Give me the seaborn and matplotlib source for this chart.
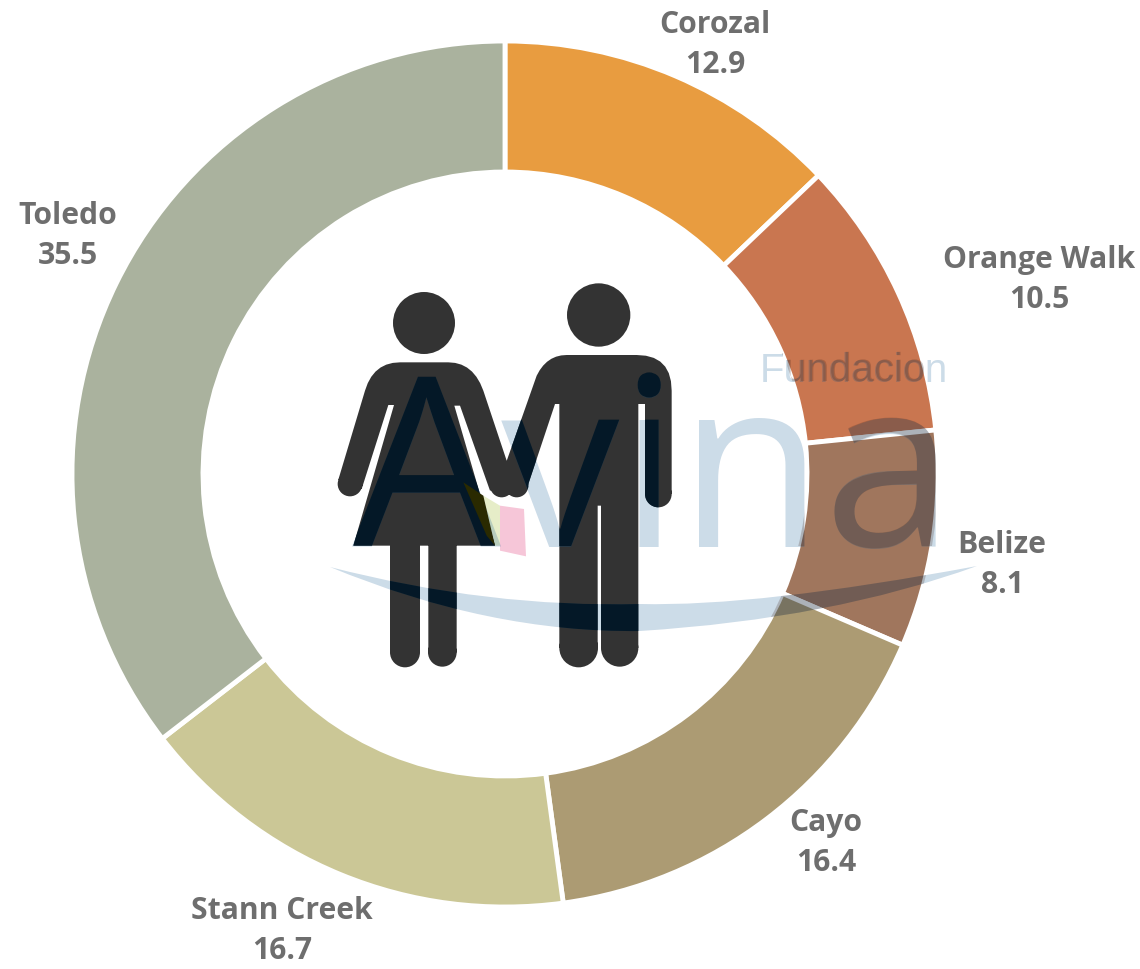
import matplotlib
matplotlib.use('Agg')
import matplotlib.pyplot as plt
import seaborn as sns
import numpy as np
from matplotlib.font_manager import FontProperties
from matplotlib.patches import PathPatch, Wedge
from matplotlib.path import Path
from matplotlib.textpath import TextPath
from matplotlib.transforms import Affine2D

districts = ['Corozal', 'Orange Walk', 'Belize', 'Cayo', 'Stann Creek', 'Toledo']
shares = [12.9, 10.5, 8.1, 16.4, 16.7, 35.5]
ring_colors = ['#E89C40', '#C97650', '#A0765D', '#AC9B73', '#CBC796', '#AAB29E']

# label centres in picture pixels
label_pos = [(715, 45), (1039, 280), (1002, 565), (826, 843), (282, 931), (68, 236)]

W, H = 1140, 970
CX, CY, R = 505, 475, 433
RING_W = 131


def to_data(x, y):
    return (x - CX) / R, (CY - y) / R


def from_zoom(x, y):
    return to_data(x / 3 + 320, y / 3 + 270)


def bend(p0, c, p1, n=8):
    # points along a rounded corner
    t = np.linspace(0, 1, n)[:, None]
    p0, c, p1 = np.array(p0), np.array(c), np.array(p1)
    return [tuple(p) for p in (1 - t) ** 2 * p0 + 2 * t * (1 - t) * c + t ** 2 * p1]


def poly(points, conv=from_zoom):
    xy = np.array([conv(*p) for p in points])
    area = np.sum(xy[:, 0] * np.roll(xy[:, 1], -1) - np.roll(xy[:, 0], -1) * xy[:, 1])
    if area < 0:
        xy = xy[::-1]
    return Path(np.vstack([xy, xy[0]]), closed=True)


def disc(x, y, r):
    return Path.circle(from_zoom(x, y), r / 3 / R)


sns.set_theme(style='white')
plt.rcParams['font.family'] = ['Open Sans', 'DejaVu Sans']

fig = plt.figure(figsize=(W / 100, H / 100), dpi=100, facecolor='white')
ax = fig.add_axes([0, 0, 1, 1])

ax.pie(shares, colors=sns.color_palette(ring_colors), startangle=90, counterclock=False,
       radius=1, wedgeprops=dict(width=RING_W / R, edgecolor='white', linewidth=3.5))
ax.set_xlim(-CX / R, (W - CX) / R)
ax.set_ylim(-(H - CY) / R, CY / R)

# labels
for name, val, pos in zip(districts, shares, label_pos):
    x, y = to_data(*pos)
    ax.text(x, y, '{}\n{}'.format(name, val), ha='center', va='center', fontsize=21.7,
            fontweight='bold', color='#6E6E6E', linespacing=1.42, zorder=6)

# woman and man icon
woman = poly([(55, 632)] + bend((135, 365), (160, 280), (240, 280))
             + bend((385, 280), (460, 280), (490, 365))
             + [(565, 590), (580, 650), (510, 665), (420, 410), (403, 410),
                (525, 830), (100, 830), (222, 408), (205, 408), (125, 660)])
man = poly(bend((650, 320), (680, 258), (740, 258)) + bend((950, 258), (1055, 258), (1055, 365))
           + [(1055, 675), (975, 675), (975, 405), (955, 405), (955, 1137), (843, 1137), (843, 710),
              (833, 710), (833, 1137), (718, 1137), (718, 405), (705, 405), (620, 660), (555, 620),
              (555, 590)])
leg_1 = poly([(210, 820), (300, 820), (300, 1150), (210, 1150)])
leg_2 = poly([(325, 820), (410, 820), (410, 1150), (325, 1150)])
icon_path = Path.make_compound_path(
    woman, man, leg_1, leg_2,
    disc(312, 162, 93), disc(836, 138, 95),
    disc(90, 645, 37), disc(545, 650, 35), disc(590, 650, 35), disc(1015, 675, 40),
    disc(255, 1150, 45), disc(367, 1150, 43), disc(776, 1137, 58), disc(899, 1137, 56))
ax.add_patch(PathPatch(icon_path, facecolor='#333333', edgecolor='none', zorder=2))

# faded logo laid over everything
logo_blue = (0, 80, 140)
logo_rgb = tuple(c / 255 for c in logo_blue)
logo_font = FontProperties(family='Open Sans')
fund_font = FontProperties(family='Liberation Sans')
ax_x, ax_y = to_data(352, 547)
ax.text(ax_x, ax_y, 'Avina', fontproperties=logo_font, fontsize=170, color=logo_rgb, alpha=0.2,
        ha='left', va='baseline', zorder=3)
fx, fy = to_data(760, 382)
ax.text(fx, fy, 'Fundacion', fontproperties=fund_font, fontsize=29, color=logo_rgb, alpha=0.2,
        ha='left', va='baseline', zorder=3)

sw_pts = [(330, 568), (489, 609), (640, 605), (757, 608), (977, 567),
          (831, 620), (640, 632), (489, 634), (330, 568)]
swoosh = Path([to_data(*p) for p in sw_pts],
              [Path.MOVETO] + [Path.CURVE3] * 8)
ax.add_patch(PathPatch(swoosh, facecolor=logo_rgb, edgecolor='none', alpha=0.2, zorder=3))

# the colour specks in the logo
ax.add_patch(PathPatch(poly([(490, 680), (540, 710), (540, 830), (525, 830)]),
                       facecolor='#E6EDC8', edgecolor='none', zorder=1.5))
ax.add_patch(PathPatch(poly([(430, 640), (490, 680), (525, 830), (500, 800)]),
                       facecolor='#2A2A00', edgecolor='none', zorder=3.5))
ax.add_patch(PathPatch(poly([(540, 710), (612, 720), (618, 862), (540, 845)]),
                       facecolor='#F6C6D8', edgecolor='none', zorder=1.5))

# darker overlap of the logo with the icon and with the ring
avina_shape = TextPath((0, 0), 'Avina', size=170 * 100 / 72, prop=logo_font)
avina_tf = Affine2D().scale(1 / R).translate(ax_x, ax_y) + ax.transData
fund_shape = TextPath((0, 0), 'Fundacion', size=29 * 100 / 72, prop=fund_font)
fund_tf = Affine2D().scale(1 / R).translate(fx, fy) + ax.transData
ring_path = Wedge((0, 0), 1, 0, 360, width=RING_W / R).get_path()

overlays = [(avina_shape, avina_tf), (fund_shape, fund_tf), (swoosh, ax.transData)]
for shape, tf in overlays:
    dark = PathPatch(shape, transform=tf, facecolor='#001524', edgecolor='none', alpha=0.9, zorder=3.2)
    ax.add_patch(dark)
    dark.set_clip_path(icon_path, ax.transData)
    warm = PathPatch(shape, transform=tf, facecolor='#3C1E14', edgecolor='none', alpha=0.22, zorder=3.2)
    ax.add_patch(warm)
    warm.set_clip_path(ring_path, ax.transData)

plt.savefig('out.png', dpi=100)
